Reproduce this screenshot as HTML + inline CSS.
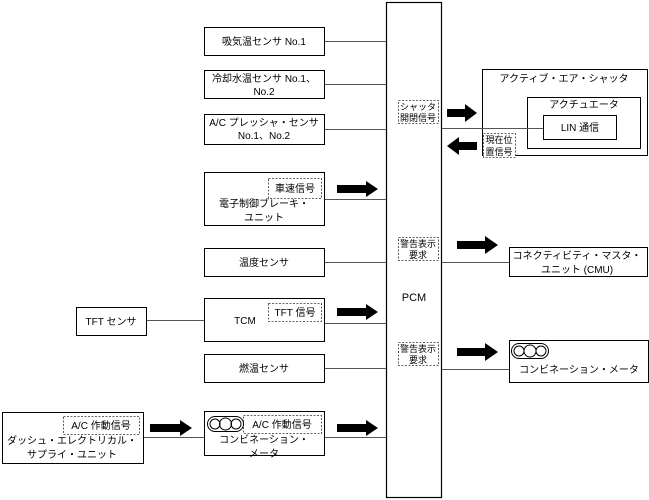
<!DOCTYPE html>
<html><head><meta charset="utf-8"><style>
html,body{margin:0;padding:0;background:#fff;}
svg{display:block;font-family:"Liberation Sans","Noto Sans CJK JP",sans-serif;font-size:10px;}
</style></head><body>
<svg width="649" height="500" viewBox="0 0 649 500">
<g fill="none" stroke="#000" stroke-width="1">
<!-- PCM -->
<rect x="386.5" y="2.5" width="55" height="495" stroke-width="1.2"/>
<!-- left boxes -->
<rect x="204.5" y="27.5" width="120" height="28"/>
<rect x="204.5" y="70.5" width="120" height="28"/>
<rect x="204.5" y="114.5" width="120" height="30"/>
<rect x="204.5" y="172.5" width="120" height="53"/>
<rect x="204.5" y="248.5" width="120" height="28"/>
<rect x="204.5" y="298.5" width="120" height="43"/>
<rect x="204.5" y="354.5" width="120" height="28"/>
<rect x="204.5" y="411.5" width="120" height="44"/>
<rect x="76.5" y="307.5" width="70" height="28"/>
<rect x="2.5" y="412.5" width="141" height="51"/>
<!-- right boxes -->
<rect x="482.5" y="69.5" width="165" height="86"/>
<rect x="527.5" y="97.5" width="113" height="51"/>
<rect x="543.5" y="115.5" width="73" height="24"/>
<rect x="509.5" y="247.5" width="138" height="29"/>
<rect x="509.5" y="340.5" width="139" height="42"/>
</g>
<g stroke="#555" stroke-width="1">
<line x1="325" y1="41.5" x2="386" y2="41.5"/>
<line x1="325" y1="84.5" x2="386" y2="84.5"/>
<line x1="325" y1="129.5" x2="386" y2="129.5"/>
<line x1="325" y1="199.5" x2="386" y2="199.5"/>
<line x1="325" y1="262.5" x2="386" y2="262.5"/>
<line x1="325" y1="323.5" x2="386" y2="323.5"/>
<line x1="325" y1="368.5" x2="386" y2="368.5"/>
<line x1="325" y1="437.5" x2="386" y2="437.5"/>
<line x1="147" y1="320.5" x2="204" y2="320.5"/>
<line x1="144" y1="437.5" x2="204" y2="437.5"/>
<line x1="442" y1="128.5" x2="543" y2="128.5"/>
<line x1="442" y1="262.5" x2="509" y2="262.5"/>
<line x1="442" y1="369.5" x2="509" y2="369.5"/>
</g>
<!-- dashed boxes -->
<g fill="#fff" stroke="#333" stroke-width="0.8" stroke-dasharray="2,1.5">
<rect x="398.5" y="100.5" width="40" height="23"/>
<rect x="483.5" y="133.5" width="32" height="24"/>
<rect x="398.5" y="237.5" width="40" height="23"/>
<rect x="398.5" y="342.5" width="40" height="23"/>
<rect x="268.5" y="178.5" width="53" height="20"/>
<rect x="268.5" y="303.5" width="53" height="18"/>
<rect x="243.5" y="415.5" width="78" height="18"/>
<rect x="63.5" y="416.5" width="76" height="18"/>
</g>
<!-- arrows -->
<g fill="#000">
<path d="M337,185 H366 V181 L378,189 L366,197 V193 H337 Z"/>
<path d="M337,308 H366 V304 L378,312 L366,320 V316 H337 Z"/>
<path d="M337,424 H366 V420 L378,428 L366,436 V432 H337 Z"/>
<path d="M150,424 H180 V420 L192,428 L180,436 V432 H150 Z"/>
<path d="M447,109 H465 V104 L477,113 L465,122 V117 H447 Z"/>
<path d="M477,142 H459 V137 L447,146 L459,155 V150 H477 Z"/>
<path d="M457,241 H485 V236 L498,245 L485,254 V249 H457 Z"/>
<path d="M457,348 H485 V343 L498,352 L485,361 V356 H457 Z"/>
</g>
<!-- gauges -->
<g fill="none" stroke="#000" stroke-width="1">
<rect x="207.5" y="416.5" width="36" height="15" rx="7.5"/>
<circle cx="215" cy="424" r="5"/><circle cx="225.5" cy="424" r="6"/><circle cx="236" cy="424" r="5"/>
<rect x="511.5" y="343.5" width="37" height="15" rx="7.5"/>
<circle cx="519" cy="351" r="5"/><circle cx="530" cy="351" r="6"/><circle cx="541" cy="351" r="5"/>
</g>
<!-- text -->
<g fill="#000" text-anchor="middle">
<text x="264" y="45">吸気温センサ No.1</text>
<text x="264" y="82">冷却水温センサ No.1、</text>
<text x="264" y="95">No.2</text>
<text x="264" y="126">A/C プレッシャ・センサ</text>
<text x="264" y="139">No.1、No.2</text>
<text x="295" y="192">車速信号</text>
<text x="264" y="207">電子制御ブレーキ・</text>
<text x="264" y="221">ユニット</text>
<text x="264" y="266">温度センサ</text>
<text x="295" y="316">TFT 信号</text>
<text x="245" y="324">TCM</text>
<text x="264" y="372">燃温センサ</text>
<text x="282" y="428">A/C 作動信号</text>
<text x="264" y="443">コンビネーション・</text>
<text x="264" y="457">メータ</text>
<text x="111" y="325">TFT センサ</text>
<text x="101" y="429">A/C 作動信号</text>
<text x="72" y="444">ダッシュ・エレクトリカル・</text>
<text x="72" y="458">サプライ・ユニット</text>
<text x="414" y="301" font-size="11">PCM</text>
<text x="564" y="82">アクティブ・エア・シャッタ</text>
<text x="584" y="108">アクチュエータ</text>
<text x="580" y="131">LIN 通信</text>
<text x="577" y="259">コネクティビティ・マスタ・</text>
<text x="577" y="273">ユニット (CMU)</text>
<text x="579" y="373">コンビネーション・メータ</text>
</g>
<g fill="#000" text-anchor="middle" font-size="9">
<text x="418" y="110">シャッタ</text>
<text x="418" y="121">開閉信号</text>
<text x="499" y="143">現在位</text>
<text x="499" y="155">置信号</text>
<text x="418" y="247">警告表示</text>
<text x="418" y="258">要求</text>
<text x="418" y="352">警告表示</text>
<text x="418" y="363">要求</text>
</g>
</svg>
</body></html>
